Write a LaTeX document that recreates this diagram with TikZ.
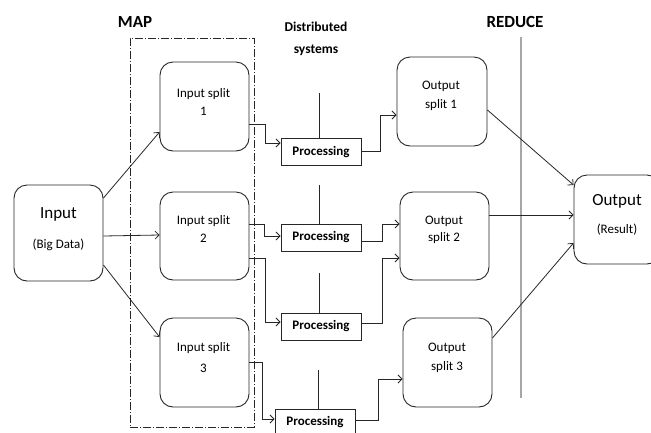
\documentclass[tikz,border=0pt]{standalone}
\usepackage{fontspec}
\setmainfont{Carlito}
\usetikzlibrary{arrows.meta}
\begin{document}
\begin{tikzpicture}[x=1pt,y=-1pt,
  line/.style={draw=black!85, line width=0.8pt},
  arr/.style={line, -{Straight Barb[length=4pt,width=8pt]}},
  rbox/.style={draw=black!85, line width=0.9pt, rounded corners=13pt, inner sep=0pt},
  pbox/.style={draw=black!85, line width=0.9pt, minimum width=80pt, minimum height=27pt, inner sep=0pt, font=\fontsize{13}{15}\selectfont\bfseries},
  small/.style={font=\fontsize{13}{15}\selectfont, inner sep=0pt},
  big/.style={font=\fontsize{17}{20}\selectfont, inner sep=0pt},
  head/.style={font=\fontsize{17}{20}\selectfont\bfseries, inner sep=0pt},
  mapframe/.style={draw=black!85, line width=0.8pt, dash pattern=on 8pt off 2pt on 1pt off 2pt, inner sep=0pt},
  ]
\clip (0,0) rectangle (651,432);
% headings
\node[head] (maplbl) at (135,22) {MAP};
\node[head] (redlbl) at (515,22) {REDUCE};
\node[align=center, font=\fontsize{13.5}{22}\selectfont\bfseries, inner sep=0pt] (dist) at (316,39) {Distributed\\systems};
% MAP frame
\node[mapframe, minimum width=124pt, minimum height=389pt] (mapbox) at (192,232.5) {};
% REDUCE line
\coordinate (rtop) at (521,37);
\coordinate (rbot) at (521,398);
\draw[black!35, line width=1.2pt] (rtop) -- (rbot);
% boxes
\node[rbox, minimum width=89pt, minimum height=96pt] (in) at (58.5,233) {};
\node[rbox, minimum width=89pt, minimum height=89pt] (is1) at (204.5,106.5) {};
\node[rbox, minimum width=89pt, minimum height=88pt] (is2) at (204.5,236) {};
\node[rbox, minimum width=89pt, minimum height=89pt] (is3) at (204.5,362.5) {};
\node[rbox, minimum width=90pt, minimum height=89pt] (os1) at (442,101.5) {};
\node[rbox, minimum width=89pt, minimum height=88pt] (os2) at (444.5,236) {};
\node[rbox, minimum width=89pt, minimum height=89pt] (os3) at (447.5,362.5) {};
\node[rbox, minimum width=86pt, minimum height=89pt] (out) at (617,219.5) {};
% box texts
\node[big] (inT1) at (58.5,214) {Input};
\node[small] (inT2) at (58.5,245) {(Big Data)};
\node[small] (is1T1) at (203.5,94) {Input split};
\node[small] (is1T2) at (203.5,111) {1};
\node[small] (is2T1) at (203.5,221) {Input split};
\node[small] (is2T2) at (203.5,238) {2};
\node[small] (is3T1) at (203.5,348) {Input split};
\node[small] (is3T2) at (203.5,368) {3};
\node[small] (os1T1) at (441,86) {Output};
\node[small] (os1T2) at (441,105) {split 1};
\node[small] (os2T1) at (444,221) {Output};
\node[small] (os2T2) at (444,238) {split 2};
\node[small] (os3T1) at (447,348) {Output};
\node[small] (os3T2) at (447,367) {split 3};
\node[big] (outT1) at (617,201) {Output};
\node[small] (outT2) at (617,230) {(Result)};
% processing boxes
\node[pbox] (p1) at (321,152) {Processing};
\node[pbox] (p2) at (321,237.5) {Processing};
\node[pbox] (p3) at (321,326.5) {Processing};
\node[pbox] (p4) at (315,422.5) {Processing};
% vertical lines above processing
\coordinate (t1) at (319,93);
\coordinate (t2) at (319,185);
\coordinate (t3) at (319,273);
\coordinate (t4) at (318,370);
\draw[line] (p1.north -| t1) -- (t1);
\draw[line] (p2.north -| t2) -- (t2);
\draw[line] (p3.north -| t3) -- (t3);
\draw[line] (p4.north -| t4) -- (t4);
% input to splits
\draw[arr] ([yshift=35pt]in.east) -- ([yshift=-25.5pt]is1.west);
\draw[arr] ([yshift=-3pt]in.east) -- ([yshift=1pt]is2.west);
\draw[arr] ([yshift=-32pt]in.east) -- ([yshift=25.5pt]is3.west);
% splits to processing
\draw[arr] ([yshift=-17.5pt]is1.east) -- ++(16,0) |- ([yshift=9pt]p1.west);
\draw[arr] ([yshift=12pt]is2.east) -- ++(15,0) |- ([yshift=1.5pt]p2.west);
\draw[arr] ([yshift=-22pt]is2.east) -- ++(16,0) |- ([yshift=4.5pt]p3.west);
\draw[arr] (is3.east) -- ++(13,0) |- ([yshift=3.5pt]p4.west);
% processing to output splits
\draw[arr] ([yshift=1pt]p1.east) -- ++(19,0) |- ([yshift=-13.5pt]os1.west);
\draw[arr] ([yshift=-3.5pt]p2.east) -- ++(21,0) |- ([yshift=12pt]os2.west);
\draw[arr] ([yshift=3.5pt]p3.east) -- ++(21,0) |- ([yshift=-22pt]os2.west);
\draw[arr] ([yshift=2.5pt]p4.east) -- ++(23,0) |- ([yshift=-16.5pt]os3.west);
% output splits to output
\draw[arr] ([yshift=-8.5pt]os1.east) -- ([yshift=34.5pt]out.west);
\draw[arr] ([yshift=21pt]os2.east) -- ([yshift=4.5pt]out.west);
\draw[arr] ([yshift=24.5pt]os3.east) -- ([yshift=-23.5pt]out.west);
\end{tikzpicture}
\end{document}
